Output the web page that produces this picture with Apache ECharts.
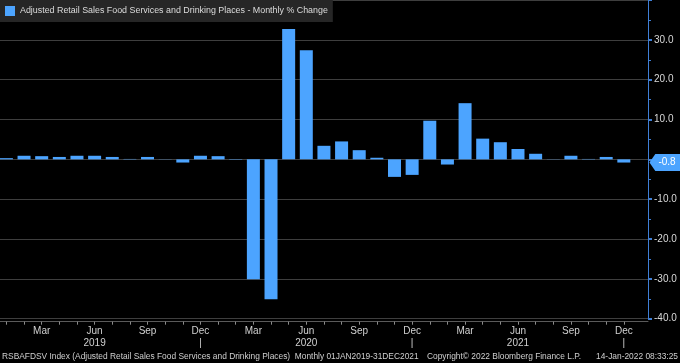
<!DOCTYPE html>
<html>
<head>
<meta charset="utf-8">
<script src="https://cdn.jsdelivr.net/npm/echarts@6/dist/echarts.min.js"></script>
<style>
html,body{margin:0;padding:0;background:#000;}
#c{width:680px;height:363px;}
</style>
</head>
<body>
<div id="c"></div>
<script>
const seriesName = 'Adjusted Retail Sales Food Services and Drinking Places - Monthly % Change';
const periods = [
  '2019-01','2019-02','2019-03','2019-04','2019-05','2019-06','2019-07','2019-08','2019-09','2019-10','2019-11','2019-12',
  '2020-01','2020-02','2020-03','2020-04','2020-05','2020-06','2020-07','2020-08','2020-09','2020-10','2020-11','2020-12',
  '2021-01','2021-02','2021-03','2021-04','2021-05','2021-06','2021-07','2021-08','2021-09','2021-10','2021-11','2021-12'
];
const values = [
  0.3, 0.9, 0.8, 0.6, 0.9, 0.9, 0.6, 0.1, 0.6, 0.05, -0.8, 0.9,
  0.8, -0.1, -30.1, -35.1, 32.7, 27.4, 3.4, 4.5, 2.3, 0.4, -4.4, -3.9,
  9.7, -1.3, 14.1, 5.2, 4.3, 2.6, 1.4, -0.05, 0.9, 0.1, 0.6, -0.8
];
const monthNames = ['Jan','Feb','Mar','Apr','May','Jun','Jul','Aug','Sep','Oct','Nov','Dec'];
const shownMonths = ['Mar','Jun','Sep','Dec'];
const yTicks = [-40, -30, -20, -10, 10, 20, 30];
const footerLeft = 'RSBAFDSV Index (Adjusted Retail Sales Food Services and Drinking Places)  Monthly 01JAN2019-31DEC2021';
const footerMid = 'Copyright\u00A9 2022 Bloomberg Finance L.P.';
const footerRight = '14-Jan-2022 08:33:25';

const FONT = '"Liberation Sans",Arial,sans-serif';
const BLUE = '#4ca4ff';
const XMIN = -0.363;
const XMAX = 36.37;

function monthOf(v){
  const i = Math.round(v);
  if (Math.abs(v - i) > 1e-6 || i < 0 || i >= periods.length) return null;
  const p = periods[i].split('-');
  return {year: p[0], month: monthNames[parseInt(p[1],10)-1], m: parseInt(p[1],10)};
}

const idx = periods.map((p, i) => i);
const monthLabelIdx = idx.filter(i => shownMonths.indexOf(monthOf(i).month) >= 0);
const yearRowIdx = idx.filter(i => monthOf(i).m === 6 || monthOf(i).m === 12);

const data = values.map((v, i) => [i, v]);
const last = values[values.length - 1];

const footStyle = {color: '#cfcfcf', fontSize: 8.4, fontWeight: 'normal', fontFamily: FONT};

const chart = echarts.init(document.getElementById('c'));
chart.setOption({
  backgroundColor: '#000',
  animation: false,
  textStyle: {fontFamily: FONT},
  title: [
    {text: footerLeft, left: 2, bottom: 2, padding: 0, textStyle: footStyle},
    {text: footerMid, left: 427, bottom: 2, padding: 0, textStyle: footStyle},
    {text: footerRight, right: 2, bottom: 2, padding: 0, textStyle: footStyle}
  ],
  legend: {
    left: 0, top: 0,
    padding: [6, 5, 6, 5],
    backgroundColor: '#262626',
    itemWidth: 10, itemHeight: 10,
    itemGap: 4,
    icon: 'rect',
    textStyle: {color: '#dcdcdc', fontSize: 8.9, fontFamily: FONT},
    data: [seriesName]
  },
  grid: {left: 0, right: 32, top: -3.6, bottom: 44.3, containLabel: false},
  xAxis: [
    {
      type: 'value', min: XMIN, max: XMAX,
      offset: 3,
      axisLine: {show: true, onZero: false, lineStyle: {color: '#5a5a5a', width: 1}},
      axisTick: {show: true, length: 3, customValues: idx, lineStyle: {color: '#8a8a8a'}},
      splitLine: {show: false},
      axisLabel: {
        color: '#d0d0d0', fontSize: 10, margin: 5, customValues: monthLabelIdx,
        formatter: function(v){ const m = monthOf(v); return m ? m.month : ''; }
      }
    },
    {
      type: 'value', min: XMIN, max: XMAX,
      position: 'bottom', offset: 3,
      axisLine: {show: false, onZero: false}, axisTick: {show: false}, splitLine: {show: false},
      axisLabel: {
        color: '#d0d0d0', fontSize: 10, margin: 17, customValues: yearRowIdx,
        formatter: function(v){ const m = monthOf(v); if (!m) return ''; return m.m === 6 ? m.year : '|'; }
      }
    }
  ],
  yAxis: {
    type: 'value', position: 'right', min: -40, max: 40, interval: 10,
    axisLine: {show: true, onZero: false, lineStyle: {color: '#3f7fd6', width: 1}},
    axisTick: {show: true, inside: false, length: 4, lineStyle: {color: '#3f7fd6', width: 2}},
    minorTick: {show: true, splitNumber: 2, length: 3, lineStyle: {color: '#3f7fd6', width: 1}},
    splitLine: {show: true, lineStyle: {color: '#3e3e3e', width: 1}},
    axisLabel: {
      color: '#d8d8d8', fontSize: 10, margin: 6,
      formatter: function(v){ return yTicks.indexOf(v) >= 0 ? v.toFixed(1) : ''; }
    }
  },
  series: [{
    name: seriesName,
    type: 'bar',
    data: data,
    barWidth: 13,
    itemStyle: {color: BLUE},
    markPoint: {
      silent: true,
      symbol: 'path://M0,8 L6,0 L32,0 L32,16 L6,16 Z',
      symbolSize: [31, 17],
      symbolKeepAspect: false,
      symbolOffset: [17, 0],
      itemStyle: {color: BLUE},
      label: {show: true, position: 'inside', offset: [2, 0], color: '#ffffff', fontSize: 10, fontFamily: FONT,
        formatter: function(){ return last.toFixed(1); }},
      data: [{coord: [XMAX, last]}]
    }
  }]
});
</script>
</body>
</html>
